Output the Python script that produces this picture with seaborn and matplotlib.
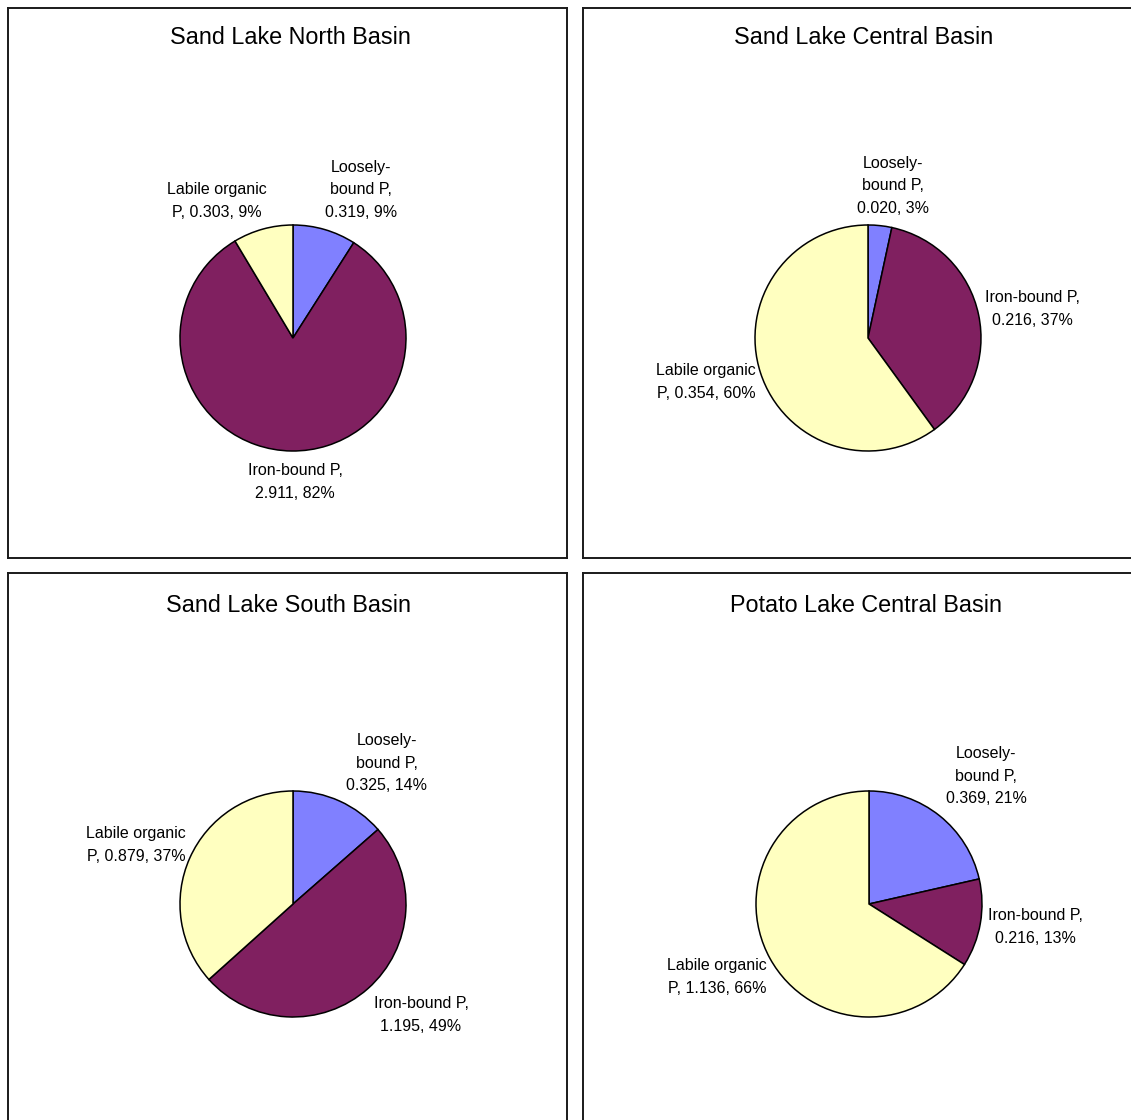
import matplotlib
matplotlib.use("Agg")
import matplotlib.pyplot as plt
import seaborn as sns

# Phosphorus fractions in lake sediments (mg/g dry weight)
titles = ["Sand Lake North Basin", "Sand Lake Central Basin",
          "Sand Lake South Basin", "Potato Lake Central Basin"]
fractions = ["Loosely-bound P", "Iron-bound P", "Labile organic P"]
north = [0.319, 2.911, 0.303]
central = [0.020, 0.216, 0.354]
south = [0.325, 1.195, 0.879]
potato = [0.369, 0.216, 1.136]
percent_labels = [
    ["9%", "82%", "9%"],
    ["3%", "37%", "60%"],
    ["14%", "49%", "37%"],
    ["21%", "13%", "66%"],
]

sns.set_theme(style="white")
plt.rcParams["font.family"] = ["Liberation Sans", "DejaVu Sans"]

colors = ["#8080FF", "#802060", "#FFFFC0"]

W, H = 1131, 1120
fig = plt.figure(figsize=(W / 100, H / 100), dpi=100)
fig.patch.set_facecolor("white")

# panel frames in pixel units (left, top, right, bottom)
boxes = [(8, 8, 567, 558), (583, 8, 1142, 558),
         (8, 573, 567, 1123), (583, 573, 1142, 1123)]
centers = [(293, 338), (868, 338), (293, 904), (869, 904)]
radius = 113
title_xy = [(290, 38), (864, 38), (289, 605), (866, 605)]

# label block centres (x, y) per slice
label_pos = [
    [(361, 190), (295, 482), (217, 201)],
    [(893, 186), (1032, 309), (706, 382)],
    [(387, 763), (421, 1015), (136, 845)],
    [(986, 776), (1035, 927), (717, 977)],
]
label_fmt = ["Loosely-\nbound P,\n{v}, {p}",
             "Iron-bound P,\n{v}, {p}",
             "Labile organic\nP, {v}, {p}"]

datasets = [north, central, south, potato]

for i, (vals, box) in enumerate(zip(datasets, boxes)):
    x0, y0, x1, y1 = box
    ax = fig.add_axes([x0 / W, 1 - y1 / H, (x1 - x0) / W, (y1 - y0) / H])
    cx, cy = centers[i]
    ax.pie(vals, colors=colors, startangle=90, counterclock=False,
           radius=radius, center=(cx, H - cy),
           wedgeprops=dict(edgecolor="black", linewidth=1.1))
    ax.set_xlim(x0, x1)
    ax.set_ylim(H - y1, H - y0)
    ax.set_aspect("auto")
    ax.set_frame_on(True)
    ax.set_xticks([])
    ax.set_yticks([])
    for s in ax.spines.values():
        s.set_visible(True)
        s.set_color("#1a1a1a")
        s.set_linewidth(1.4)
    tx, ty = title_xy[i]
    ax.text(tx, H - ty, titles[i], ha="center", va="center",
            fontsize=16.8, color="black")
    for j, v in enumerate(vals):
        lx, ly = label_pos[i][j]
        txt = label_fmt[j].format(v=f"{v:.3f}", p=percent_labels[i][j])
        ax.text(lx, H - ly, txt, ha="center", va="center", fontsize=11.5,
                linespacing=1.62, multialignment="center", color="black")

fig.savefig("out.png", dpi=100, facecolor="white")
